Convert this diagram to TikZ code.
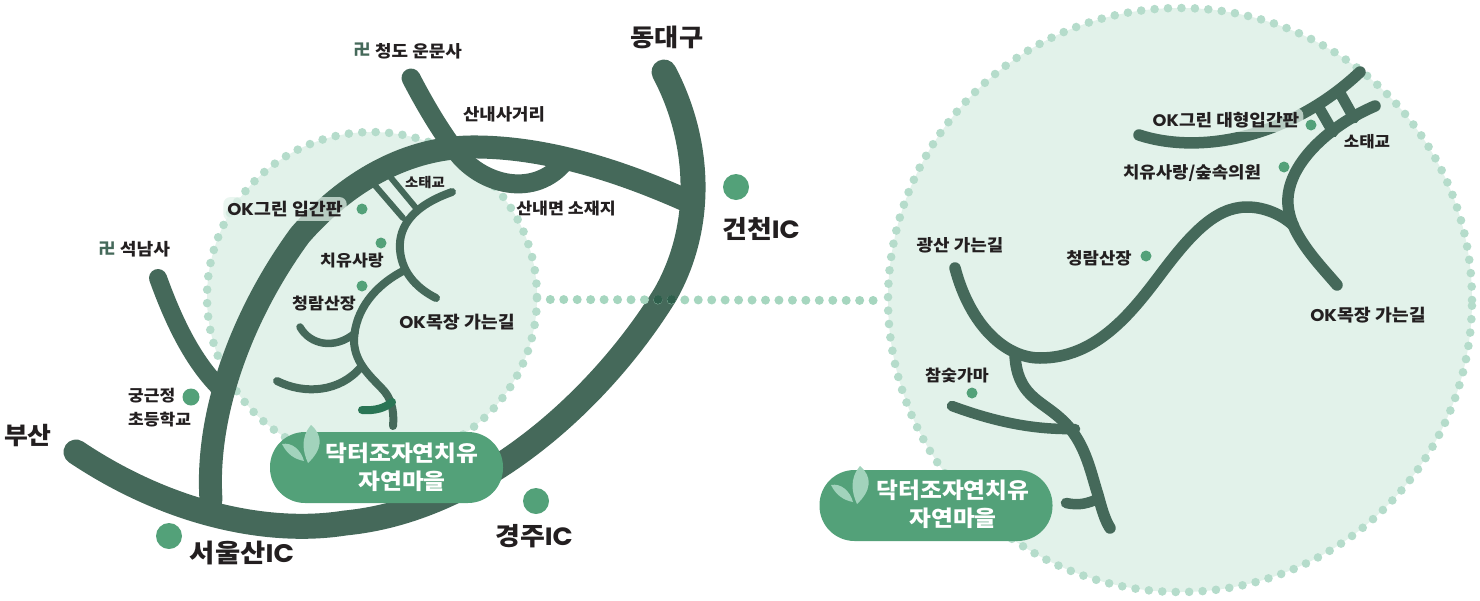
\documentclass[tikz,border=0pt]{standalone}
\usepackage{fontspec}
\newfontfamily\kr{Noto Sans CJK KR Black}[FakeStretch=1.08]
\newfontfamily\lat{Poppins Bold}[FakeStretch=1.06]
\newcommand{\OKw}{{\lat OK}}
\newcommand{\ICw}{{\lat IC}}
\definecolor{road}{HTML}{45695A}
\definecolor{roaddk}{HTML}{2A7555}
\definecolor{pale}{HTML}{E2F2EA}
\definecolor{dotc}{HTML}{B5DCCB}
\definecolor{linkc}{HTML}{A6D6BF}
\definecolor{linkdk}{HTML}{2F5F4C}
\definecolor{pin}{HTML}{53A179}
\definecolor{leafc}{HTML}{A2D3BC}
\definecolor{ink}{HTML}{231F20}
\tikzset{
  zone/.style={circle,inner sep=0pt,fill=pale,draw=dotc,line width=8.6pt,line cap=round,dash pattern=on 0pt off 13.45pt},
  linkline/.style={draw=linkc,line width=9pt,line cap=round,dash pattern=on 0pt off 13.45pt},
  rd/.style={draw=road,line width=#1,line cap=round,line join=round},
  pinb/.style={circle,fill=pin,inner sep=0pt,minimum size=26pt},
  pinm/.style={circle,fill=pin,inner sep=0pt,minimum size=17pt},
  pins/.style={circle,fill=pin,inner sep=0pt,minimum size=11pt},
  lab/.style={font=\kr\fontsize{#1}{#1}\selectfont,text=ink,inner sep=0pt},
  halo/.style={fill=pale,fill opacity=.72,text opacity=1,rounded corners=7pt,inner xsep=4pt,inner ysep=4pt},
  pill/.style={fill=pin,rounded corners=35pt,minimum width=233pt,minimum height=71pt,inner sep=0pt},
  pilltext/.style={font=\kr\fontsize{22}{28}\selectfont,text=white,align=center,inner sep=0pt},
  leaf/.style={fill=leafc,draw=none},
  temple/.style={font=\kr\fontsize{16}{16}\selectfont,text=road,inner sep=0pt},
}
\begin{document}
\begin{tikzpicture}[x=1pt,y=-1pt]
\useasboundingbox (0,0) rectangle (1480,600);
% zones
\node[zone,minimum size=330pt] (leftzone) at (372,297) {};
\node[zone,minimum size=584pt] (rightzone) at (1180,300) {};
% highway network
\draw[rd=25pt] (76,452) .. controls (170,515) and (270,535) .. (345,523) .. controls (480,510) and (600,400) .. (665,295) .. controls (705,225) and (700,140) .. (664,72);
\draw[rd=23pt] (211,500) .. controls (205,410) and (245,310) .. (300,235) .. controls (350,178) and (410,148) .. (470,147) .. controls (550,146) and (630,175) .. (692,203);
\draw[rd=18pt] (158,278) .. controls (175,325) and (195,365) .. (224,392);
\draw[rd=19pt] (411,78) .. controls (425,105) and (440,130) .. (455,150) .. controls (480,185) and (535,200) .. (566,160);
% inner roads, left zone
\draw[rd=6pt] (372,182) -- (403,218);
\draw[rd=6pt] (387,173) -- (416,208);
\draw[rd=8pt] (452,192) .. controls (415,205) and (398,225) .. (400,250) .. controls (402,275) and (420,290) .. (436,298);
\draw[rd=8pt] (405,270) .. controls (375,285) and (355,310) .. (354,340) .. controls (354,365) and (375,380) .. (385,392) .. controls (393,402) and (394,415) .. (393,426);
\draw[rd=7.5pt] (300,327) .. controls (310,345) and (335,350) .. (355,333);
\draw[rd=8pt] (277,381) .. controls (305,395) and (340,392) .. (361,367);
\draw[draw=roaddk,line width=8pt,line cap=round] (362,410) .. controls (375,411) and (385,408) .. (392,402);
% inner roads, right zone
\draw[rd=11.5pt] (1139,135) .. controls (1200,155) and (1290,138) .. (1360,72);
\draw[rd=11pt] (1318,106) -- (1333,132);
\draw[rd=11pt] (1340,93) -- (1354,118);
\draw[rd=11.5pt] (1375,106) .. controls (1330,125) and (1285,165) .. (1288,205) .. controls (1290,235) and (1320,265) .. (1337,285);
\draw[rd=11.5pt] (955,268) .. controls (970,325) and (1005,358) .. (1040,358) .. controls (1095,358) and (1130,315) .. (1160,275) .. controls (1190,235) and (1215,207) .. (1247,207) .. controls (1265,207) and (1282,215) .. (1293,225);
\draw[rd=11.5pt] (1015,355) .. controls (1017,395) and (1040,400) .. (1060,418) .. controls (1085,440) and (1090,470) .. (1098,495) .. controls (1102,510) and (1105,520) .. (1110,528);
\draw[rd=10.5pt] (952,406) .. controls (990,420) and (1030,430) .. (1075,429);
\draw[rd=10.5pt] (1066,503) .. controls (1080,506) and (1088,503) .. (1098,499);
% link between zones
\draw[linkline] (leftzone.east) ++(9,2.5) -- ([yshift=-.5pt]rightzone.west);
\fill[linkdk] (658,299.5) circle (4.5pt) (671.5,299.5) circle (4.5pt);
% pins
\node[pinb] (p1) at (736,187) {};
\node[pinb] (p2) at (169,536) {};
\node[pinb] (p3) at (536,501) {};
\node[pinm] (p4) at (191,397) {};
\node[pins] (p5) at (362,209) {};
\node[pins] (p6) at (381,243) {};
\node[pins] (p7) at (362,286) {};
\node[pins] (p8) at (1311,125) {};
\node[pins] (p9) at (1284,167) {};
\node[pins] (p10) at (1146,256) {};
\node[pins] (p11) at (972,393) {};
% pills
\node[pill] (pillL) at (386.5,467.5) {};
\node[pill] (pillR) at (936,505.5) {};
\foreach \dx/\dy in {0/0,549/41}{
  \begin{scope}[shift={(\dx,\dy)}]
    \fill[leaf] (311,425) .. controls (300,438) and (303,452) .. (308,463) .. controls (322,450) and (324,436) .. (311,425);
    \fill[leaf] (282,444) .. controls (292,442) and (301,450) .. (304,461) .. controls (294,459) and (287,454) .. (282,444);
  \end{scope}
}
\node[pilltext] (pillLt) at (402,467.5) {닥터조자연치유\\자연마을};
\node[pilltext] (pillRt) at (953,504.5) {닥터조자연치유\\자연마을};
% labels, left
\node[lab=24.3] (t1) at (667,37) {동대구};
\node[temple] (t2a) at (362,50) {卍};
\node[lab=16.6,anchor=west] (t2) at (375,51) {청도 운문사};
\node[lab=16.5] (t3) at (504,114) {산내사거리};
\node[lab=16] (t4) at (566,209) {산내면 소재지};
\node[lab=25] (t5) at (761,229) {건천\ICw};
\node[temple] (t6a) at (107,249) {卍};
\node[lab=16.8] (t6) at (145,249) {석남사};
\node[lab=17,halo] (t7) at (285,209) {\OKw 그린 입간판};
\node[lab=13.3] (t8) at (425,183) {소태교};
\node[lab=16] (t9) at (352,261) {치유사랑};
\node[lab=16] (t10) at (324,303) {청람산장};
\node[lab=17] (t11) at (457,322) {\OKw 목장 가는길};
\node[lab=15.8,anchor=west] (t12) at (128,396) {궁근정};
\node[lab=15.8,anchor=west] (t13) at (128,420) {초등학교};
\node[lab=24] (t14) at (28,436) {부산};
\node[lab=25.4] (t15) at (242,553) {서울산\ICw};
\node[lab=25] (t16) at (534,536) {경주\ICw};
% labels, right
\node[lab=16.6] (r1) at (960,245) {광산 가는길};
\node[lab=16.4] (r2) at (1099,258) {청람산장};
\node[lab=16] (r3) at (957,375) {참숯가마};
\node[lab=16.7,halo] (r4) at (1226,120) {\OKw 그린 대형입간판};
\node[lab=16.5] (r5) at (1192,173) {치유사랑/숲속의원};
\node[lab=15.5] (r6) at (1367,142) {소태교};
\node[lab=17] (r7) at (1368,315) {\OKw 목장 가는길};
\end{tikzpicture}
\end{document}
